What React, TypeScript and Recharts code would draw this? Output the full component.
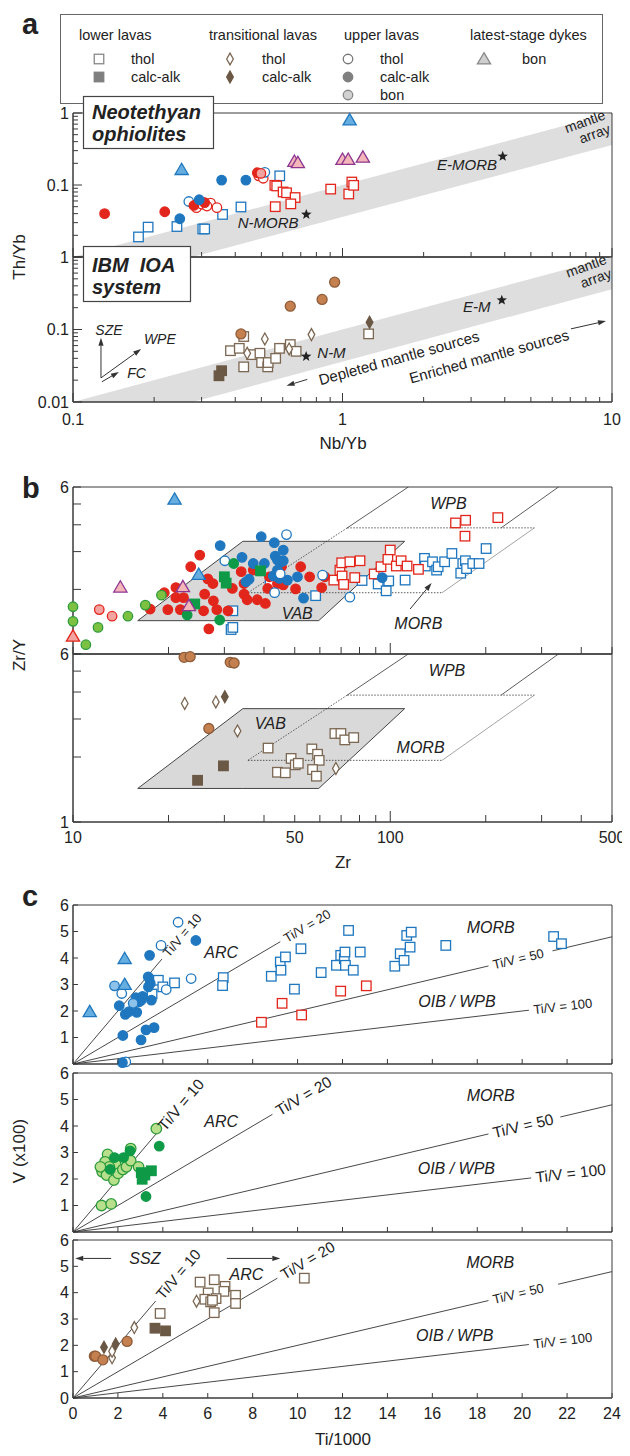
import React from 'react';
import { ComposedChart, Scatter, Area, XAxis, YAxis, ReferenceLine, ReferenceArea } from 'recharts';

const FONT = '"Liberation Sans", Arial, Helvetica, sans-serif';
const INK = '#3a3a3a';

const BLUE = '#1f77bf';
const BLUE_TRI = '#67aee0';
const BLUE_BON = '#8dc2ea';
const RED = '#e2261c';
const PINK = '#f3a3a0';
const PURPLE = '#8f3591';
const PINK_TRI = '#f3b6b9';
const GREEN = '#0e9a47';
const GREEN_LT = '#b8e08c';
const GREEN_S = '#2f9c3c';
const GREEN_Y = '#7cc142';
const BROWN = '#c5804f';
const BROWN_S = '#8f5c3a';
const DKB = '#6b5845';
const BRO = '#7b6752';

type Pt = number[];

// ---------- panel a, Neotethyan ophiolites (Nb/Yb, Th/Yb) ----------
const aTopBlueSq: Pt[] = [[0.175, 0.019], [0.19, 0.026], [0.243, 0.0265], [0.303, 0.0245], [0.308, 0.0245], [0.359, 0.039], [0.42, 0.0495], [0.585, 0.134]];
const aTopBlueDot: Pt[] = [[0.249, 0.034], [0.294, 0.0624], [0.356, 0.117], [0.438, 0.117]];
const aTopBlueOpen: Pt[] = [[0.269, 0.059], [0.515, 0.15]];
const aTopBlueTri: Pt[] = [[1.063, 0.8], [0.253, 0.164]];
const aTopRedDot: Pt[] = [[0.131, 0.04], [0.219, 0.0425], [0.281, 0.052], [0.308, 0.057], [0.483, 0.148]];
const aTopRedOpen: Pt[] = [[0.287, 0.0485], [0.301, 0.054], [0.324, 0.056], [0.342, 0.0485], [0.314, 0.051], [0.489, 0.134], [0.508, 0.124]];
const aTopPink: Pt[] = [[0.498, 0.145]];
const aTopRedSq: Pt[] = [[0.561, 0.099], [0.57, 0.097], [0.602, 0.08], [0.62, 0.078], [0.667, 0.067], [0.643, 0.0547], [0.563, 0.05], [0.904, 0.0877], [1.055, 0.075], [1.083, 0.11], [1.1, 0.099]];
const aTopPurpleTri: Pt[] = [[0.663, 0.213], [0.683, 0.204], [1.0, 0.227], [1.05, 0.227], [1.19, 0.243]];
const aTopStars: Pt[] = [[0.734, 0.039], [3.93, 0.25]];

// ---------- panel a, IBM IOA system ----------
const aBotSqOpen: Pt[] = [[1.25, 0.087], [0.384, 0.051], [0.414, 0.055], [0.43, 0.08], [0.43, 0.0305], [0.46, 0.045], [0.494, 0.047], [0.501, 0.035], [0.528, 0.0305], [0.53, 0.035], [0.565, 0.04], [0.584, 0.055], [0.64, 0.062], [0.673, 0.05]];
const aBotSqFill: Pt[] = [[0.356, 0.027], [0.348, 0.023]];
const aBotDiaOpen: Pt[] = [[0.515, 0.074], [0.767, 0.085], [0.443, 0.047], [0.634, 0.054]];
const aBotDiaFill: Pt[] = [[1.26, 0.126]];
const aBotBrownDot: Pt[] = [[0.42, 0.087], [0.64, 0.21], [0.84, 0.26], [0.935, 0.45]];
const aBotStars: Pt[] = [[0.733, 0.0425], [3.9, 0.254]];

// mantle array: Th/Yb between 0.036 and 0.1 times Nb/Yb
const mantleLo = 0.036;
const mantleHi = 0.1;

// ---------- panel b (Zr, Zr/Y) ----------
const bTopBlueTri: Pt[] = [[20.9, 5.26], [24.9, 2.35]];
const bTopPurpleTri: Pt[] = [[14.1, 2.05], [22.2, 2.06], [23.2, 1.68]];
const bTopRedTri: Pt[] = [[10.0, 1.21]];
const bTopGreenY: Pt[] = [[10, 1.66], [10, 1.42], [10.98, 1.105], [11.99, 1.33], [14.9, 1.5], [16.9, 1.69], [19.0, 1.88]];
const bTopPink: Pt[] = [[12.1, 1.61], [13.28, 1.5]];
const bTopGreenDot: Pt[] = [[22.9, 1.52], [29.0, 1.44], [32.1, 2.64]];
const bTopGreenSq: Pt[] = [[30.0, 2.29], [30.4, 2.14], [39.0, 2.44], [24.2, 1.71]];
const bTopRedDot: Pt[] = [[17.5, 1.62], [19.4, 1.93], [19.9, 1.61], [21.1, 2.04], [21.1, 1.83], [21.8, 1.61], [22.3, 1.83], [23.5, 2.55], [25.1, 2.89], [25.8, 1.59], [26.0, 1.9], [26.6, 2.24], [26.8, 1.31], [27.6, 2.13], [27.7, 1.77], [28.4, 1.61], [30.8, 1.59], [31.8, 2.02], [33.9, 2.42], [34.6, 2.13], [34.6, 1.9], [35.4, 1.79], [37.0, 2.46], [38.1, 1.79], [40.4, 1.72], [41.1, 2.02], [41.6, 2.29], [44.1, 2.13], [45.4, 2.55], [46.0, 2.1], [50.3, 2.01], [52.2, 2.55], [55.7, 2.29], [60.8, 2.04], [62.2, 2.29]];
const bTopBlueDot: Pt[] = [[29.1, 3.2], [39.2, 3.52], [43.1, 3.3], [46.0, 3.05], [34.1, 2.82], [37.0, 2.64], [40.1, 2.64], [43.4, 2.86], [44.1, 2.74], [45.4, 2.69], [46.0, 2.72], [44.1, 2.46], [35.9, 2.23], [35.1, 2.17], [42.8, 2.31], [47.4, 2.21], [44.7, 2.25], [51.0, 2.29], [53.3, 1.82], [94.3, 2.27]];
const bTopBlueOpen: Pt[] = [[47.1, 3.6], [30.1, 2.72], [45.0, 2.36], [43.2, 1.93], [61.2, 2.33], [74.6, 1.84]];
const bTopBlueSq: Pt[] = [[31.9, 1.59], [31.5, 1.3], [31.9, 1.33], [41.8, 2.1], [58.2, 1.87], [81.5, 2.2], [91.6, 2.12], [97.1, 1.97], [98.9, 2.19], [111.4, 2.21], [128.2, 2.79], [129, 2.57], [135.9, 2.69], [140, 2.46], [141.6, 2.55], [148.4, 2.69], [156.4, 2.94], [166.8, 2.38], [169.3, 2.64], [172.5, 2.72], [174, 2.5], [182, 2.64], [190.5, 2.64], [200.5, 3.1]];
const bTopRedSq: Pt[] = [[66.4, 2.21], [69.4, 2.46], [70.3, 2.66], [74.6, 2.69], [80.3, 2.72], [70.5, 2.31], [71.3, 2.11], [77.3, 2.27], [89, 2.36], [93.5, 2.55], [100, 3.05], [98.3, 2.76], [104.5, 2.57], [108.2, 2.72], [113, 2.57], [122.7, 2.48], [160.6, 4.08], [172.8, 4.2], [172, 3.54], [218.4, 4.32]];

const bBotBrownDot: Pt[] = [[22.4, 5.79], [23.4, 5.83], [31.3, 5.49], [32.2, 5.45], [26.8, 2.71]];
const bBotDiaFill: Pt[] = [[30.1, 3.8]];
const bBotDiaOpen: Pt[] = [[22.5, 3.54], [28.2, 3.6], [33.0, 2.64], [67.4, 1.77]];
const bBotSqFill: Pt[] = [[29.8, 1.82], [24.7, 1.56]];
const bBotSqOpen: Pt[] = [[41.2, 2.2], [48.7, 1.97], [50.2, 1.84], [51.3, 1.87], [44.1, 1.7], [46.7, 1.69], [56.6, 2.18], [59.0, 2.06], [59.7, 1.93], [56.9, 1.75], [58.5, 1.63], [66.9, 2.57], [69.9, 2.57], [71.9, 2.4], [76.7, 2.46]];

// tectonic fields (corners)
const vabField = { bl: [16, 1.43], tl: [34.3, 3.35], br: [59.5, 1.43], tr: [111, 3.35] };
const morbField = { bl: [35.6, 1.93], tl: [73.2, 3.87], br: [145.7, 1.93], tr: [284.7, 3.87] };
const wpbLeftTop = [114, 6];
const wpbRight = [[223.6, 3.87], [339, 6]];

// ---------- panel c (Ti/1000, V x100) ----------
const cTopBlueTri: Pt[] = [[0.745, 1.975], [2.3, 3.98], [2.3, 3.0]];
const cTopBlueBon: Pt[] = [[1.85, 2.95], [2.68, 2.29]];
const cTopBlueOpen: Pt[] = [[4.68, 5.35], [3.92, 4.475], [2.17, 2.66], [5.26, 3.225], [4.15, 2.81], [2.35, 0.08]];
const cTopBlueDot: Pt[] = [[5.47, 4.66], [3.41, 4.1], [3.35, 3.29], [3.36, 2.91], [2.06, 2.2], [2.33, 1.875], [2.49, 1.975], [2.84, 1.95], [2.8, 2.5], [3.04, 2.41], [3.49, 2.41], [3.44, 3.04], [2.22, 1.075], [3.25, 1.29], [3.61, 1.375], [3.03, 0.91], [2.2, 0.05], [3.1, 2.55], [2.95, 2.35]];
const cTopBlueSq: Pt[] = [[3.8, 3.16], [4.0, 2.91], [3.52, 2.64], [4.52, 3.06], [6.69, 3.26], [6.66, 2.96], [8.83, 3.31], [9.23, 3.85], [9.26, 3.54], [9.46, 4.04], [10.15, 4.35], [9.86, 2.825], [11.05, 3.45], [11.73, 3.725], [11.92, 4.1], [12.08, 3.975], [12.11, 4.225], [12.13, 3.725], [12.48, 3.54], [12.27, 5.04], [12.79, 4.225], [14.33, 3.69], [14.57, 4.16], [14.74, 3.91], [14.86, 4.85], [15.01, 4.41], [15.06, 4.975], [16.6, 4.475], [21.4, 4.81], [21.75, 4.54]];
const cTopRedSq: Pt[] = [[8.39, 1.575], [9.31, 2.29], [10.18, 1.85], [11.92, 2.75], [13.06, 2.95]];

const cMidGreenLt: Pt[] = [[3.71, 3.9], [1.54, 2.93], [1.43, 2.65], [1.27, 2.4], [1.3, 2.275], [1.49, 2.15], [1.82, 1.96], [1.9, 2.56], [2.01, 2.21], [2.22, 2.36], [2.38, 2.46], [2.57, 2.69], [2.57, 3.15], [2.92, 2.46], [1.27, 1.0], [1.7, 1.06], [1.62, 2.46], [1.22, 2.46]];
const cMidGreenDot: Pt[] = [[1.85, 2.81], [2.25, 2.81], [2.54, 3.06], [1.66, 2.36], [3.84, 3.24], [3.25, 1.34]];
const cMidGreenSq: Pt[] = [[3.04, 2.24], [3.49, 2.31], [3.08, 1.99], [3.2, 2.15]];

const cBotBrownDot: Pt[] = [[0.95, 1.59], [1.01, 1.59], [1.33, 1.45], [2.41, 2.15]];
const cBotDiaFill: Pt[] = [[1.38, 1.925], [1.9, 2.05]];
const cBotDiaOpen: Pt[] = [[1.74, 1.525], [1.74, 1.775], [2.73, 2.675], [5.5, 3.675]];
const cBotSqFill: Pt[] = [[3.65, 2.65], [4.12, 2.55]];
const cBotSqOpen: Pt[] = [[3.88, 3.21], [5.66, 4.4], [6.29, 4.49], [6.77, 4.24], [6.72, 4.05], [6.02, 3.99], [5.87, 3.75], [6.13, 3.65], [6.37, 3.775], [6.29, 3.24], [7.24, 3.9], [7.24, 3.59], [6.21, 3.71], [10.3, 4.55]];

// Ti/V reference ratios and where each line is broken for its label [end, restart]
const tiV = [10, 20, 50, 100];
const tiVAngle = [-49.7, -30.5, -13.3, -6.7];
const cBreaks = [
  [[3.96, 0], [9.23, 0], [18.5, 21.35], [20.3, 0]],
  [[3.76, 0], [8.88, 0], [18.5, 21.7], [20.4, 0]],
  [[3.68, 0], [9.1, 0], [18.5, 21.6], [20.3, 0]],
];
const cLabelSize = [[13, 13, 13, 13], [15.5, 15.5, 15.5, 15.5], [15, 15, 13, 13]];

// ---------- shapes ----------
type Mark = { k: 'sq' | 'ci' | 'tri' | 'dia' | 'star'; fill: string; stroke: string; s?: number };

const drawMark = (m: Mark, cx: number, cy: number) => {
  const s = m.s ?? 9.5;
  const h = s / 2;
  const c = { fill: m.fill, stroke: m.stroke, strokeWidth: 1.3 };
  if (m.k === 'sq') return <rect x={cx - h} y={cy - h} width={s} height={s} {...c} />;
  if (m.k === 'ci') return <circle cx={cx} cy={cy} r={h} {...c} />;
  if (m.k === 'tri')
    return <polygon points={`${cx},${cy - h * 1.15} ${cx + h * 1.2},${cy + h * 0.9} ${cx - h * 1.2},${cy + h * 0.9}`} {...c} />;
  if (m.k === 'dia')
    return <polygon points={`${cx},${cy - h * 1.25} ${cx + h * 0.7},${cy} ${cx},${cy + h * 1.25} ${cx - h * 0.7},${cy}`} {...c} />;
  const pts: string[] = [];
  for (let i = 0; i < 10; i++) {
    const r = i % 2 === 0 ? 5.5 : 2.3;
    const a = -Math.PI / 2 + (i * Math.PI) / 5;
    pts.push(`${cx + r * Math.cos(a)},${cy + r * Math.sin(a)}`);
  }
  return <polygon points={pts.join(' ')} fill={m.fill} stroke="none" />;
};

const shapeOf = (m: Mark) => (p: any) => (p.cx == null ? <g /> : drawMark(m, p.cx, p.cy));

const M: Record<string, Mark> = {
  blueSq: { k: 'sq', fill: '#fff', stroke: BLUE },
  blueDot: { k: 'ci', fill: BLUE, stroke: BLUE },
  blueOpen: { k: 'ci', fill: '#fff', stroke: BLUE },
  blueBon: { k: 'ci', fill: BLUE_BON, stroke: BLUE },
  blueTri: { k: 'tri', fill: BLUE_TRI, stroke: BLUE, s: 11 },
  redSq: { k: 'sq', fill: '#fff', stroke: RED },
  redDot: { k: 'ci', fill: RED, stroke: RED },
  redOpen: { k: 'ci', fill: '#fff', stroke: RED },
  pink: { k: 'ci', fill: PINK, stroke: RED },
  redTri: { k: 'tri', fill: PINK, stroke: RED, s: 11 },
  purpleTri: { k: 'tri', fill: PINK_TRI, stroke: PURPLE, s: 11 },
  greenDot: { k: 'ci', fill: GREEN, stroke: GREEN },
  greenSq: { k: 'sq', fill: GREEN, stroke: GREEN },
  greenLt: { k: 'ci', fill: GREEN_LT, stroke: GREEN_S, s: 10.5 },
  greenY: { k: 'ci', fill: GREEN_Y, stroke: GREEN_S },
  brownDot: { k: 'ci', fill: BROWN, stroke: BROWN_S, s: 10 },
  brSq: { k: 'sq', fill: '#fff', stroke: BRO },
  brSqFill: { k: 'sq', fill: DKB, stroke: DKB },
  diaOpen: { k: 'dia', fill: '#fff', stroke: BRO },
  diaFill: { k: 'dia', fill: DKB, stroke: DKB },
  star: { k: 'star', fill: '#222', stroke: '#222' },
};

type Note = { x: number; y: number; t: string; fs?: number; it?: boolean; rot?: number; anchor?: 'start' | 'middle' | 'end' };

const noteShape = (p: any) => {
  const d = p.payload as Note;
  if (p.cx == null) return <g />;
  const lines = d.t.split('\n');
  const fs = d.fs ?? 16;
  return (
    <text
      x={p.cx}
      y={p.cy}
      transform={d.rot ? `rotate(${d.rot} ${p.cx} ${p.cy})` : undefined}
      textAnchor={d.anchor ?? 'middle'}
      fontSize={fs}
      fontStyle={d.it ? 'italic' : 'normal'}
      fontFamily={FONT}
      fill="#222"
    >
      {lines.map((l, i) => (
        <tspan key={i} x={p.cx} dy={i === 0 ? ((1 - lines.length) * 0.55 + 0.35) * fs : 1.05 * fs}>
          {l}
        </tspan>
      ))}
    </text>
  );
};

const arrowShape = (p: any) => {
  const { x1, y1, x2, y2 } = p;
  if (x1 == null) return <g />;
  const ang = Math.atan2(y2 - y1, x2 - x1);
  const L = 8;
  const W = 2.6;
  const bx = x2 - L * Math.cos(ang);
  const by = y2 - L * Math.sin(ang);
  const px = -Math.sin(ang) * W;
  const py = Math.cos(ang) * W;
  return (
    <g>
      <line x1={x1} y1={y1} x2={bx} y2={by} stroke="#333" strokeWidth={1} />
      <polygon points={`${x2},${y2} ${bx + px},${by + py} ${bx - px},${by - py}`} fill="#333" />
    </g>
  );
};

type Seg = { a: number[]; b: number[]; dash?: string; w?: number; arrow?: boolean; color?: string };
type RangePt = { x: number; r: [number, number] };

type AxisCfg = {
  scale: 'log' | 'linear';
  domain: [number, number];
  ticks: number[];
  len: (v: number) => number;
  labels: number[];
};

type Cfg = {
  top: number;
  h: number;
  x: AxisCfg;
  y: AxisCfg;
  labOff: number;
  areas: { d: RangePt[]; fill: string; stroke: string }[];
  segs: Seg[];
  series: { d: Pt[]; m: Mark }[];
  notes: Note[];
};

const near = (list: number[], v: number) => list.some((l) => Math.abs(l - v) < 1e-9 * Math.max(1, Math.abs(l)));

const xTick = (c: Cfg) => (p: any) => {
  const v = p.payload.value;
  const len = c.x.len(v);
  const lab = near(c.x.labels, v) ? String(v) : null;
  return (
    <g>
      <line x1={p.x} y1={p.y} x2={p.x} y2={p.y - len} stroke={INK} strokeWidth={1} />
      {lab != null && (
        <text x={p.x} y={p.y + c.labOff} textAnchor="middle" fontSize={16} fontFamily={FONT} fill="#222">
          {lab}
        </text>
      )}
    </g>
  );
};

const yTick = (c: Cfg) => (p: any) => {
  const v = p.payload.value;
  const len = c.y.len(v);
  const lab = near(c.y.labels, v) ? String(v) : null;
  return (
    <g>
      <line x1={p.x} y1={p.y} x2={p.x + len} y2={p.y} stroke={INK} strokeWidth={1} />
      {lab != null && (
        <text x={p.x - 4} y={p.y + 5.5} textAnchor="end" fontSize={16} fontFamily={FONT} fill="#222">
          {lab}
        </text>
      )}
    </g>
  );
};

const toXY = (pts: Pt[]) => pts.map(([x, y]) => ({ x, y }));

function renderPlot(c: Cfg, key: string) {
  const pad = 12;
  return (
    <div key={key} style={{ position: 'absolute', left: 0, top: c.top - pad }}>
      <ComposedChart width={630} height={c.h + pad + 30} margin={{ top: pad, right: 18, bottom: 0, left: 0 }}>
        <XAxis
          type="number"
          dataKey="x"
          scale={c.x.scale}
          domain={c.x.domain}
          ticks={c.x.ticks}
          interval={0}
          tickLine={false}
          tickSize={0}
          tickMargin={0}
          height={30}
          axisLine={{ stroke: INK }}
          tick={xTick(c)}
        />
        <YAxis
          type="number"
          dataKey="y"
          scale={c.y.scale}
          domain={c.y.domain}
          ticks={c.y.ticks}
          interval={0}
          tickLine={false}
          tickSize={0}
          tickMargin={0}
          width={73}
          axisLine={{ stroke: INK }}
          tick={yTick(c)}
        />
        {c.areas.map((a, i) => (
          <Area
            key={'a' + i}
            data={a.d}
            dataKey="r"
            type="linear"
            fill={a.fill}
            fillOpacity={1}
            stroke={a.stroke}
            strokeWidth={1}
            dot={false}
            activeDot={false}
            isAnimationActive={false}
          />
        ))}
        {c.segs.map((s, i) => (
          <ReferenceLine
            key={'l' + i}
            segment={[{ x: s.a[0], y: s.a[1] }, { x: s.b[0], y: s.b[1] }]}
            stroke={s.color ?? '#333'}
            strokeWidth={s.w ?? 0.9}
            strokeDasharray={s.dash}
            ifOverflow="visible"
            shape={s.arrow ? arrowShape : undefined}
          />
        ))}
        <ReferenceArea x1={c.x.domain[0]} x2={c.x.domain[1]} y1={c.y.domain[0]} y2={c.y.domain[1]} fill="none" stroke={INK} strokeWidth={1} ifOverflow="visible" />
        {c.series.map((s, i) => (
          <Scatter key={'s' + i} data={toXY(s.d)} dataKey="y" shape={shapeOf(s.m)} isAnimationActive={false} />
        ))}
        <Scatter data={c.notes} dataKey="y" shape={noteShape} isAnimationActive={false} />
      </ComposedChart>
    </div>
  );
}

// ---------- tick helpers ----------
const logTicks = (lo: number, hi: number) => {
  const out: number[] = [];
  for (let d = lo; d < hi * 0.999; d *= 10) for (let i = 1; i < 10; i++) out.push(+(d * i).toPrecision(6));
  out.push(hi);
  return out.filter((v, i, a) => v <= hi * 1.0001 && a.indexOf(v) === i);
};
const isDecade = (v: number) => Math.abs(Math.log10(v) - Math.round(Math.log10(v))) < 1e-6;

const aX = (labels: number[]): AxisCfg => ({
  scale: 'log',
  domain: [0.1, 10],
  ticks: logTicks(0.1, 10),
  len: (v) => (isDecade(v) ? 9 : 5),
  labels,
});
const aY = (labels: number[]): AxisCfg => ({
  scale: 'log',
  domain: [0.01, 1],
  ticks: logTicks(0.01, 1),
  len: (v) => (isDecade(v) ? 9 : 5),
  labels,
});

const mantleBand: RangePt[] = [
  { x: 0.1, r: [0.01, mantleHi * 0.1] },
  { x: 0.01 / mantleLo, r: [0.01, (mantleHi * 0.01) / mantleLo] },
  { x: 10, r: [mantleLo * 10, mantleHi * 10] },
];

const bX = (labels: number[]): AxisCfg => ({
  scale: 'log',
  domain: [10, 500],
  ticks: logTicks(10, 500),
  len: (v) => (Math.abs(v - 100) < 1e-6 ? 11 : 7),
  labels,
});
const bY = (labels: number[]): AxisCfg => ({
  scale: 'log',
  domain: [1, 6],
  ticks: [1, 2, 3, 4, 5, 6],
  len: () => 8,
  labels,
});

const vabBand: RangePt[] = [
  { x: vabField.bl[0], r: [vabField.bl[1], vabField.bl[1]] },
  { x: vabField.tl[0], r: [vabField.bl[1], vabField.tl[1]] },
  { x: vabField.br[0], r: [vabField.br[1], vabField.tl[1]] },
  { x: vabField.tr[0], r: [vabField.tr[1], vabField.tr[1]] },
];

const fieldSegs: Seg[] = [
  { a: morbField.bl, b: morbField.tl, dash: '1.5 1.5', w: 0.8 },
  { a: morbField.tl, b: wpbLeftTop, w: 0.8 },
  { a: morbField.bl, b: morbField.br, dash: '1.5 1.5', w: 0.8 },
  { a: morbField.tl, b: morbField.tr, dash: '1.5 1.5', w: 0.8 },
  { a: morbField.br, b: morbField.tr, w: 0.6, color: '#666' },
  { a: wpbRight[0], b: wpbRight[1], w: 0.8 },
];

const cX = (labels: number[]): AxisCfg => ({
  scale: 'linear',
  domain: [0, 24],
  ticks: [0, 2, 4, 6, 8, 10, 12, 14, 16, 18, 20, 22, 24],
  len: () => 5,
  labels,
});
const cY = (labels: number[]): AxisCfg => ({
  scale: 'linear',
  domain: [0, 6],
  ticks: [0, 1, 2, 3, 4, 5, 6],
  len: () => 5,
  labels,
});

const tiVSegs = (k: number): Seg[] => {
  const out: Seg[] = [];
  tiV.forEach((r, i) => {
    const f = 10 / r;
    const [end, restart] = cBreaks[k][i];
    out.push({ a: [0, 0], b: [end, end * f] });
    if (restart) out.push({ a: [restart, restart * f], b: [24, 24 * f] });
  });
  return out;
};
const tiVNotes = (k: number): Note[] =>
  tiV.map((r, i) => {
    const f = 10 / r;
    const sx = cBreaks[k][i][0] + (i === 0 ? 0.15 : 0.2);
    return { x: sx, y: sx * f, t: `Ti/V = ${r}`, fs: cLabelSize[k][i], rot: tiVAngle[i], anchor: 'start' as const };
  });

const cFieldNotes = (arc: number[], morb: number[], oib: number[]): Note[] => [
  { x: arc[0], y: arc[1], t: 'ARC', it: true },
  { x: morb[0], y: morb[1], t: 'MORB', it: true },
  { x: oib[0], y: oib[1], t: 'OIB / WPB', it: true },
];

const plots: Cfg[] = [
  {
    top: 113,
    h: 144,
    x: aX([]),
    y: aY([1, 0.1]),
    labOff: 18,
    areas: [{ d: mantleBand, fill: '#dedede', stroke: 'none' }],
    segs: [],
    series: [
      { d: aTopBlueSq, m: M.blueSq },
      { d: aTopRedSq, m: M.redSq },
      { d: aTopRedOpen, m: M.redOpen },
      { d: aTopBlueOpen, m: M.blueOpen },
      { d: aTopRedDot, m: M.redDot },
      { d: aTopBlueDot, m: M.blueDot },
      { d: aTopPink, m: M.pink },
      { d: aTopBlueTri, m: M.blueTri },
      { d: aTopPurpleTri, m: M.purpleTri },
      { d: aTopStars, m: M.star },
    ],
    notes: [
      { x: 0.53, y: 0.03, t: 'N-MORB', fs: 15, it: true },
      { x: 2.9, y: 0.19, t: 'E-MORB', fs: 15, it: true },
      { x: 9.6, y: 0.76, t: 'mantle\narray', fs: 14, rot: -20, anchor: 'end' },
    ],
  },
  {
    top: 257,
    h: 145,
    x: aX([0.1, 1, 10]),
    y: aY([1, 0.1, 0.01]),
    labOff: 23,
    areas: [{ d: mantleBand, fill: '#dedede', stroke: 'none' }],
    segs: [
      { a: [0.127, 0.0215], b: [0.127, 0.077], arrow: true },
      { a: [0.127, 0.0215], b: [0.179, 0.054], arrow: true },
      { a: [0.128, 0.019], b: [0.148, 0.026], arrow: true },
      { a: [0.74, 0.0205], b: [0.62, 0.0168], arrow: true },
      { a: [7.04, 0.102], b: [9.5, 0.131], arrow: true },
    ],
    series: [
      { d: aBotSqOpen, m: M.brSq },
      { d: aBotSqFill, m: M.brSqFill },
      { d: aBotDiaOpen, m: M.diaOpen },
      { d: aBotDiaFill, m: M.diaFill },
      { d: aBotBrownDot, m: M.brownDot },
      { d: aBotStars, m: M.star },
    ],
    notes: [
      { x: 0.91, y: 0.048, t: 'N-M', fs: 15, it: true },
      { x: 3.15, y: 0.205, t: 'E-M', fs: 15, it: true },
      { x: 9.7, y: 0.75, t: 'mantle\narray', fs: 14, rot: -20, anchor: 'end' },
      { x: 1.62, y: 0.0405, t: 'Depleted mantle sources', fs: 15, rot: -15.5 },
      { x: 3.5, y: 0.0425, t: 'Enriched mantle sources', fs: 15, rot: -15.5 },
      { x: 0.136, y: 0.098, t: 'SZE', fs: 14, it: true },
      { x: 0.21, y: 0.074, t: 'WPE', fs: 14, it: true },
      { x: 0.172, y: 0.025, t: 'FC', fs: 14, it: true },
    ],
  },
  {
    top: 487,
    h: 167,
    x: bX([]),
    y: bY([6]),
    labOff: 16,
    areas: [{ d: vabBand, fill: '#d9d9d9', stroke: '#444' }],
    segs: [...fieldSegs, { a: [115.5, 1.62], b: [135, 2.14], arrow: true }],
    series: [
      { d: bTopBlueSq, m: M.blueSq },
      { d: bTopRedSq, m: M.redSq },
      { d: bTopRedDot, m: M.redDot },
      { d: bTopBlueDot, m: M.blueDot },
      { d: bTopBlueOpen, m: M.blueOpen },
      { d: bTopGreenSq, m: M.greenSq },
      { d: bTopGreenDot, m: M.greenDot },
      { d: bTopGreenY, m: M.greenY },
      { d: bTopPink, m: M.pink },
      { d: bTopBlueTri, m: M.blueTri },
      { d: bTopPurpleTri, m: M.purpleTri },
      { d: bTopRedTri, m: M.redTri },
    ],
    notes: [
      { x: 152.6, y: 5.02, t: 'WPB', it: true },
      { x: 50.9, y: 1.55, t: 'VAB', it: true },
      { x: 122.6, y: 1.39, t: 'MORB', it: true },
    ],
  },
  {
    top: 654,
    h: 168,
    x: bX([10, 50, 100, 500]),
    y: bY([6, 1]),
    labOff: 21,
    areas: [{ d: vabBand, fill: '#d9d9d9', stroke: '#444' }],
    segs: fieldSegs,
    series: [
      { d: bBotSqOpen, m: M.brSq },
      { d: bBotSqFill, m: M.brSqFill },
      { d: bBotDiaOpen, m: M.diaOpen },
      { d: bBotDiaFill, m: M.diaFill },
      { d: bBotBrownDot, m: M.brownDot },
    ],
    notes: [
      { x: 151, y: 5.02, t: 'WPB', it: true },
      { x: 41.9, y: 2.87, t: 'VAB', it: true },
      { x: 124.6, y: 2.21, t: 'MORB', it: true },
    ],
  },
  {
    top: 905,
    h: 159,
    x: cX([]),
    y: cY([1, 2, 3, 4, 5, 6]),
    labOff: 20,
    areas: [],
    segs: tiVSegs(0),
    series: [
      { d: cTopBlueSq, m: M.blueSq },
      { d: cTopRedSq, m: M.redSq },
      { d: cTopBlueOpen, m: M.blueOpen },
      { d: cTopBlueDot, m: M.blueDot },
      { d: cTopBlueBon, m: M.blueBon },
      { d: cTopBlueTri, m: M.blueTri },
    ],
    notes: [...tiVNotes(0), ...cFieldNotes([6.6, 4.2], [18.6, 5.16], [17.1, 2.35])],
  },
  {
    top: 1073,
    h: 159,
    x: cX([]),
    y: cY([1, 2, 3, 4, 5, 6]),
    labOff: 20,
    areas: [],
    segs: tiVSegs(1),
    series: [
      { d: cMidGreenLt, m: M.greenLt },
      { d: cMidGreenDot, m: M.greenDot },
      { d: cMidGreenSq, m: M.greenSq },
    ],
    notes: [...tiVNotes(1), ...cFieldNotes([6.6, 4.19], [18.6, 5.17], [17.07, 2.4])],
  },
  {
    top: 1240,
    h: 158,
    x: cX([0, 2, 4, 6, 8, 10, 12, 14, 16, 18, 20, 22, 24]),
    y: cY([0, 1, 2, 3, 4, 5, 6]),
    labOff: 21,
    areas: [],
    segs: [
      ...tiVSegs(2),
      { a: [1.7, 5.3], b: [0.1, 5.3], arrow: true },
      { a: [6.85, 5.3], b: [9.23, 5.3], arrow: true },
    ],
    series: [
      { d: cBotSqOpen, m: M.brSq },
      { d: cBotSqFill, m: M.brSqFill },
      { d: cBotDiaOpen, m: M.diaOpen },
      { d: cBotDiaFill, m: M.diaFill },
      { d: cBotBrownDot, m: M.brownDot },
    ],
    notes: [
      ...tiVNotes(2),
      ...cFieldNotes([7.72, 4.71], [18.58, 5.15], [17.0, 2.375]),
      { x: 3.2, y: 5.3, t: 'SSZ', it: true },
    ],
  },
];

// ---------- legend ----------
const legendCols = [
  { head: 'lower lavas', hx: 79, ix: 99, lx: 131, rows: [{ m: { k: 'sq', fill: '#fff', stroke: '#888' }, t: 'thol' }, { m: { k: 'sq', fill: '#7f7f7f', stroke: '#7f7f7f' }, t: 'calc-alk' }] },
  { head: 'transitional lavas', hx: 209, ix: 230, lx: 262, rows: [{ m: { k: 'dia', fill: '#fff', stroke: BRO }, t: 'thol' }, { m: { k: 'dia', fill: DKB, stroke: DKB }, t: 'calc-alk' }] },
  { head: 'upper lavas', hx: 344, ix: 348, lx: 380, rows: [{ m: { k: 'ci', fill: '#fff', stroke: '#777' }, t: 'thol' }, { m: { k: 'ci', fill: '#7f7f7f', stroke: '#7f7f7f' }, t: 'calc-alk' }, { m: { k: 'ci', fill: '#d2d2d2', stroke: '#888' }, t: 'bon' }] },
  { head: 'latest-stage dykes', hx: 470, ix: 484, lx: 522, rows: [{ m: { k: 'tri', fill: '#cfcfcf', stroke: '#888', s: 11 }, t: 'bon' }] },
];

export default function App() {
  const txt = { fontFamily: FONT, fill: '#222' };
  return (
    <div style={{ position: 'relative', width: 630, height: 1456, margin: -8, background: '#fff', fontFamily: FONT, overflow: 'hidden' }}>
      <style>{'.recharts-surface{overflow:visible} body{overflow:hidden}'}</style>
      {plots.map((p, i) => renderPlot(p, 'p' + i))}
      <svg width={630} height={1456} style={{ position: 'absolute', left: 0, top: 0, pointerEvents: 'none' }}>
        {/* panel letters */}
        <text x={22} y={34} fontSize={29} fontWeight="bold" {...txt}>a</text>
        <text x={22} y={498} fontSize={29} fontWeight="bold" {...txt}>b</text>
        <text x={22} y={906} fontSize={29} fontWeight="bold" {...txt}>c</text>

        {/* legend */}
        <rect x={60.5} y={14.5} width={542} height={89} fill="#fff" stroke="#666" strokeWidth={1} />
        {legendCols.map((c, i) => (
          <g key={i}>
            <text x={c.hx} y={40} fontSize={14.5} {...txt}>{c.head}</text>
            {c.rows.map((r, j) => (
              <g key={j}>
                {drawMark(r.m as Mark, c.ix, 59 + j * 18)}
                <text x={c.lx} y={64 + j * 18} fontSize={14.5} {...txt}>{r.t}</text>
              </g>
            ))}
          </g>
        ))}

        {/* region boxes */}
        <rect x={83.5} y={96.5} width={130} height={52} fill="#fff" stroke="#444" strokeWidth={1.2} />
        <text x={92} y={119} fontSize={20} fontWeight="bold" fontStyle="italic" {...txt}>Neotethyan</text>
        <text x={92} y={141} fontSize={20} fontWeight="bold" fontStyle="italic" {...txt}>ophiolites</text>
        <rect x={83.5} y={246.5} width={107} height={55} fill="#fff" stroke="#444" strokeWidth={1.2} />
        <text x={92} y={272} fontSize={20} fontWeight="bold" fontStyle="italic" {...txt} style={{ whiteSpace: 'pre' }}>IBM  IOA</text>
        <text x={92} y={294} fontSize={20} fontWeight="bold" fontStyle="italic" {...txt}>system</text>

        {/* axis titles */}
        <text x={343} y={449} fontSize={17} textAnchor="middle" {...txt}>Nb/Yb</text>
        <text x={343} y={868} fontSize={17} textAnchor="middle" {...txt}>Zr</text>
        <text x={343} y={1445} fontSize={17} textAnchor="middle" {...txt}>Ti/1000</text>
        <text x={0} y={0} fontSize={17} textAnchor="middle" transform="translate(25 257) rotate(-90)" {...txt}>Th/Yb</text>
        <text x={0} y={0} fontSize={17} textAnchor="middle" transform="translate(25 655) rotate(-90)" {...txt}>Zr/Y</text>
        <text x={0} y={0} fontSize={17} textAnchor="middle" transform="translate(25 1151) rotate(-90)" {...txt}>V (x100)</text>
      </svg>
    </div>
  );
}
